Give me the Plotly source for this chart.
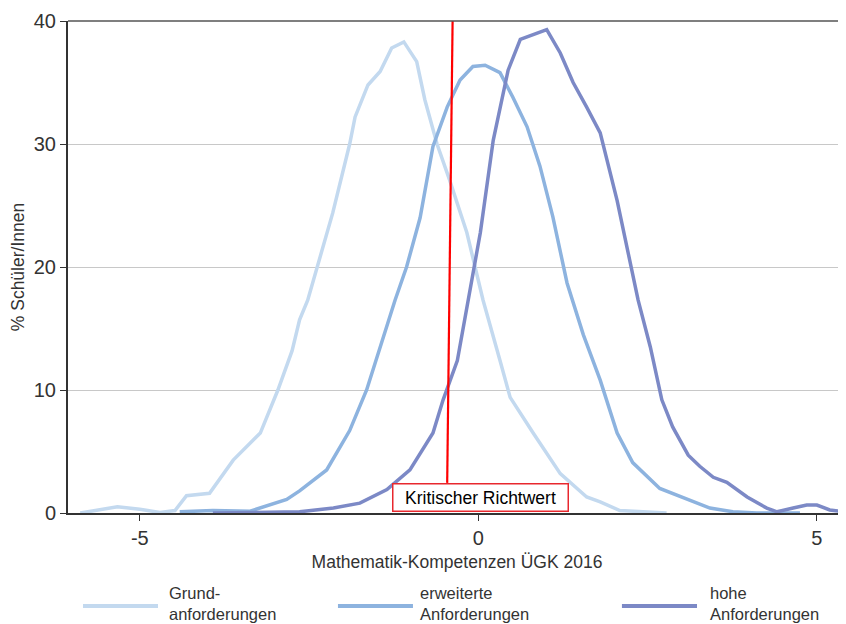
import plotly.graph_objects as go

# ---- data ----
grund_x = [-5.88, -5.33, -5.0, -4.70, -4.48, -4.31, -3.97, -3.62, -3.22, -2.96, -2.75, -2.64, -2.52,
           -2.38, -2.15, -1.90, -1.82, -1.63, -1.45, -1.28, -1.10, -0.91, -0.79, -0.61, -0.42, -0.17,
           0.07, 0.32, 0.47, 0.81, 1.21, 1.60, 1.80, 2.09, 2.78]
grund_y = [0, 0.5, 0.3, 0.05, 0.2, 1.4, 1.6, 4.3, 6.5, 10, 13.2, 15.7, 17.3,
           20, 24.4, 30, 32.2, 34.8, 35.9, 37.8, 38.3, 36.7, 33.6, 30, 27, 22.8,
           17.3, 12.4, 9.4, 6.5, 3.2, 1.3, 0.9, 0.2, 0.0]

erw_x = [-4.41, -3.92, -3.37, -3.23, -2.83, -2.64, -2.24, -1.90, -1.65, -1.23, -1.06, -0.86, -0.67,
         -0.46, -0.27, -0.08, 0.10, 0.32, 0.51, 0.72, 0.91, 1.10, 1.31, 1.55, 1.80, 2.05, 2.28,
         2.68, 3.08, 3.42, 3.76, 4.11, 4.75]
erw_y = [0.1, 0.2, 0.15, 0.4, 1.1, 1.8, 3.5, 6.7, 10, 17.3, 20, 24, 29.8,
         33, 35.2, 36.3, 36.4, 35.8, 33.8, 31.4, 28.2, 24.1, 18.7, 14.5, 10.8, 6.5, 4.1,
         2.0, 1.1, 0.4, 0.1, 0.0, 0.0]

hohe_x = [-3.92, -3.23, -2.64, -2.14, -1.75, -1.35, -1.01, -0.67, -0.52, -0.31, -0.15, 0.03, 0.22,
          0.44, 0.62, 1.01, 1.21, 1.40, 1.60, 1.80, 2.05, 2.36, 2.54, 2.71, 2.87, 3.10, 3.27,
          3.47, 3.67, 3.97, 4.26, 4.41, 4.65, 4.85, 5.00, 5.19, 5.39]
hohe_y = [0, 0.05, 0.1, 0.4, 0.8, 1.9, 3.5, 6.5, 9.2, 12.4, 17.3, 22.8, 30.3,
          36, 38.5, 39.3, 37.4, 35, 33, 30.9, 25.4, 17.3, 13.5, 9.2, 7.0, 4.7, 3.8,
          2.9, 2.5, 1.3, 0.4, 0.1, 0.4, 0.65, 0.65, 0.25, 0.1]

series_names = ["Grund-<br>anforderungen", "erweiterte<br>Anforderungen", "hohe<br>Anforderungen"]
series_colors = ["#c3d9ef", "#8db3df", "#7c89c6"]

richtwert_x = [-0.46, -0.38]
richtwert_y = [2.45, 40]
richtwert_label = "Kritischer Richtwert"
richtwert_label_pos = (0.025, 1.26)

x_ticks = [-5, 0, 5]
x_ticktext = ["-5", "0", "5"]
y_ticks = [0, 10, 20, 30, 40]
y_ticktext = ["0", "10", "20", "30", "40"]
x_title = "Mathematik-Kompetenzen ÜGK 2016"
y_title = "% Schüler/Innen"

FONT = "Arial, Liberation Sans, sans-serif"

fig = go.Figure()
for xs, ys, name, col in zip([grund_x, erw_x, hohe_x], [grund_y, erw_y, hohe_y], series_names, series_colors):
    fig.add_trace(go.Scatter(x=xs, y=ys, mode="lines", name=name,
                             line=dict(color=col, width=3.5), showlegend=False))

# critical value line
fig.add_trace(go.Scatter(x=richtwert_x, y=richtwert_y, mode="lines",
                         line=dict(color="#ff0000", width=2.2), showlegend=False))

fig.add_annotation(x=richtwert_label_pos[0], y=richtwert_label_pos[1], text=richtwert_label,
                   showarrow=False, xref="x", yref="y",
                   font=dict(family=FONT, size=17.5, color="#000"),
                   bgcolor="white", bordercolor="#e8282e", borderwidth=1.5,
                   width=172, height=24, borderpad=1)

# top border
fig.add_shape(type="line", xref="paper", yref="paper", x0=0, x1=1, y0=1, y1=1,
              line=dict(color="#555", width=1.5))

# manual legend
leg_line = [(0.0193, 0.1157), (0.347, 0.4434), (0.712, 0.8085)]
leg_text = [0.1272, 0.4499, 0.8226]
leg_line_y = -0.189
leg_text_y = -0.184
for (x0, x1), tx, name, col in zip(leg_line, leg_text, series_names, series_colors):
    fig.add_shape(type="line", xref="paper", yref="paper", x0=x0, x1=x1, y0=leg_line_y, y1=leg_line_y,
                  line=dict(color=col, width=4))
    fig.add_annotation(x=tx, y=leg_text_y, xref="paper", yref="paper", text=name, showarrow=False,
                       xanchor="left", yanchor="middle", align="left",
                       font=dict(family=FONT, size=16.5, color="#333"))

fig.update_layout(
    width=838, height=616,
    margin=dict(l=60, r=0, t=13, b=111),
    plot_bgcolor="white", paper_bgcolor="white",
    font=dict(family=FONT, color="#333"),
    showlegend=False,
)
fig.update_xaxes(range=[-6.06, 5.43], tickvals=x_ticks, ticktext=x_ticktext, ticks="outside", ticklen=6,
                 tickcolor="#333", showline=True, linecolor="#333", linewidth=2, automargin=False,
                 showgrid=False, zeroline=False, tickfont=dict(size=20, color="#333"),
                 title=dict(text=x_title, font=dict(size=17.5, color="#333"), standoff=8))
fig.update_yaxes(range=[0, 40], tickvals=y_ticks, ticktext=y_ticktext, ticks="outside", ticklen=6,
                 tickcolor="#333", showline=True, linecolor="#333", linewidth=2, automargin=False,
                 showgrid=True, gridcolor="#c8c8c8", gridwidth=1, zeroline=False,
                 tickfont=dict(size=20, color="#333"),
                 title=dict(text=y_title, font=dict(size=17.5, color="#333"), standoff=8))

fig.write_html("out.html")
